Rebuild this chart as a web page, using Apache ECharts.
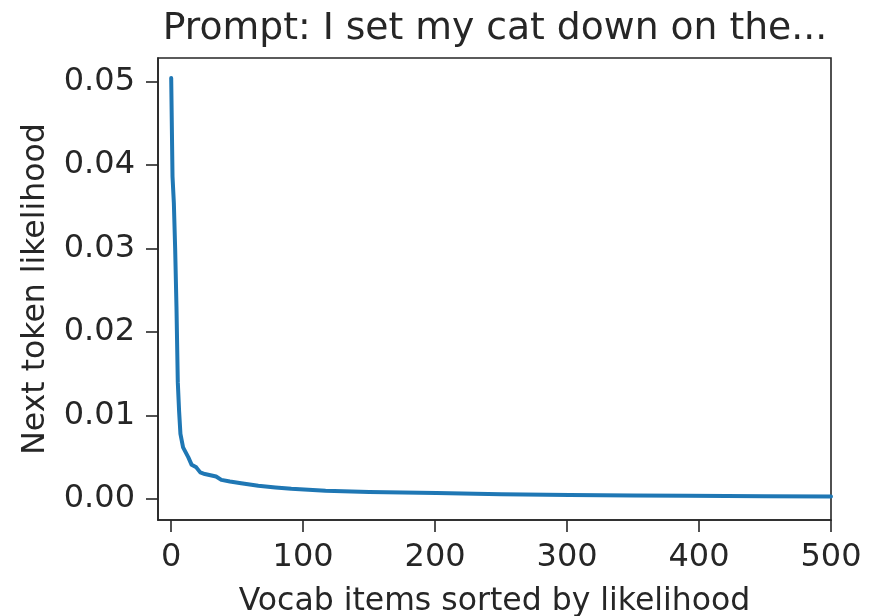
<!DOCTYPE html>
<html>
<head>
<meta charset="utf-8">
<script src="https://cdn.jsdelivr.net/npm/echarts@6/dist/echarts.min.js"></script>
<style>
html,body{margin:0;padding:0;background:#fff;}
#chart{width:886px;height:616px;}
</style>
</head>
<body>
<div id="chart"></div>
<script>
// Rank of vocab item (sorted by likelihood) and its next-token likelihood
const ranks = [0, 1, 2, 3, 4, 5, 6, 7, 9, 13, 15.5, 19, 22, 25.5, 34, 38, 44.5, 53, 66, 79, 91, 104, 117, 150, 201, 250, 302, 350, 391, 450, 500];
const probs = [0.0504, 0.0386, 0.0355, 0.0300, 0.0230, 0.0140, 0.0105, 0.0078, 0.0062, 0.0050, 0.0041, 0.0038, 0.0032, 0.0030, 0.0027, 0.0023, 0.0021, 0.0019, 0.0016, 0.0014, 0.00123, 0.00111, 0.00099, 0.00085, 0.00072, 0.00058, 0.00048, 0.00043, 0.00040, 0.00035, 0.00032];
const xTicks = [0, 100, 200, 300, 400, 500];
const yTicks = [0, 0.01, 0.02, 0.03, 0.04, 0.05];
const titleText = 'Prompt: I set my cat down on the...';
const xName = 'Vocab items sorted by likelihood';
const yName = 'Next token likelihood';

const textColor = '#262626';
const font = 'DejaVu Sans';
const chart = echarts.init(document.getElementById('chart'), null, {renderer: 'canvas'});
chart.setOption({
  animation: false,
  backgroundColor: '#ffffff',
  title: {
    text: titleText,
    left: 490,
    textAlign: 'center',
    top: 5,
    textStyle: {fontFamily: font, fontSize: 37.7, fontWeight: 'normal', color: textColor}
  },
  grid: {left: 158, right: 55, top: 58, bottom: 96, containLabel: false, outerBoundsMode: 'none',
         show: true, borderColor: textColor, borderWidth: 1.6, backgroundColor: 'transparent'},
  xAxis: {
    type: 'value', min: -10, max: 500,
    name: xName, nameLocation: 'middle', nameGap: 66,
    nameTextStyle: {fontFamily: font, fontSize: 31.5, color: textColor},
    axisLine: {show: true, onZero: false, lineStyle: {color: textColor, width: 1.6}},
    axisTick: {show: true, inside: false, length: 12, customValues: xTicks, lineStyle: {color: textColor, width: 1.6}},
    axisLabel: {customValues: xTicks, margin: 22, fontFamily: font, fontSize: 32, color: textColor},
    splitLine: {show: false}
  },
  yAxis: {
    type: 'value', min: -0.0025, max: 0.0528,
    name: yName, nameLocation: 'middle', nameGap: 106, nameRotate: 90,
    nameTextStyle: {fontFamily: font, fontSize: 31.5, color: textColor},
    axisLine: {show: true, onZero: false, lineStyle: {color: textColor, width: 1.6}},
    axisTick: {show: true, inside: false, length: 12, customValues: yTicks, lineStyle: {color: textColor, width: 1.6}},
    axisLabel: {customValues: yTicks, margin: 23, fontFamily: font, fontSize: 32, color: textColor,
                formatter: v => v.toFixed(2)},
    splitLine: {show: false}
  },
  series: [{
    type: 'line',
    data: ranks.map((r, i) => [r, probs[i]]),
    showSymbol: false,
    symbol: 'none',
    lineStyle: {color: '#1f77b4', width: 4, cap: 'round', join: 'round'},
    clip: true
  }]
});
</script>
</body>
</html>
